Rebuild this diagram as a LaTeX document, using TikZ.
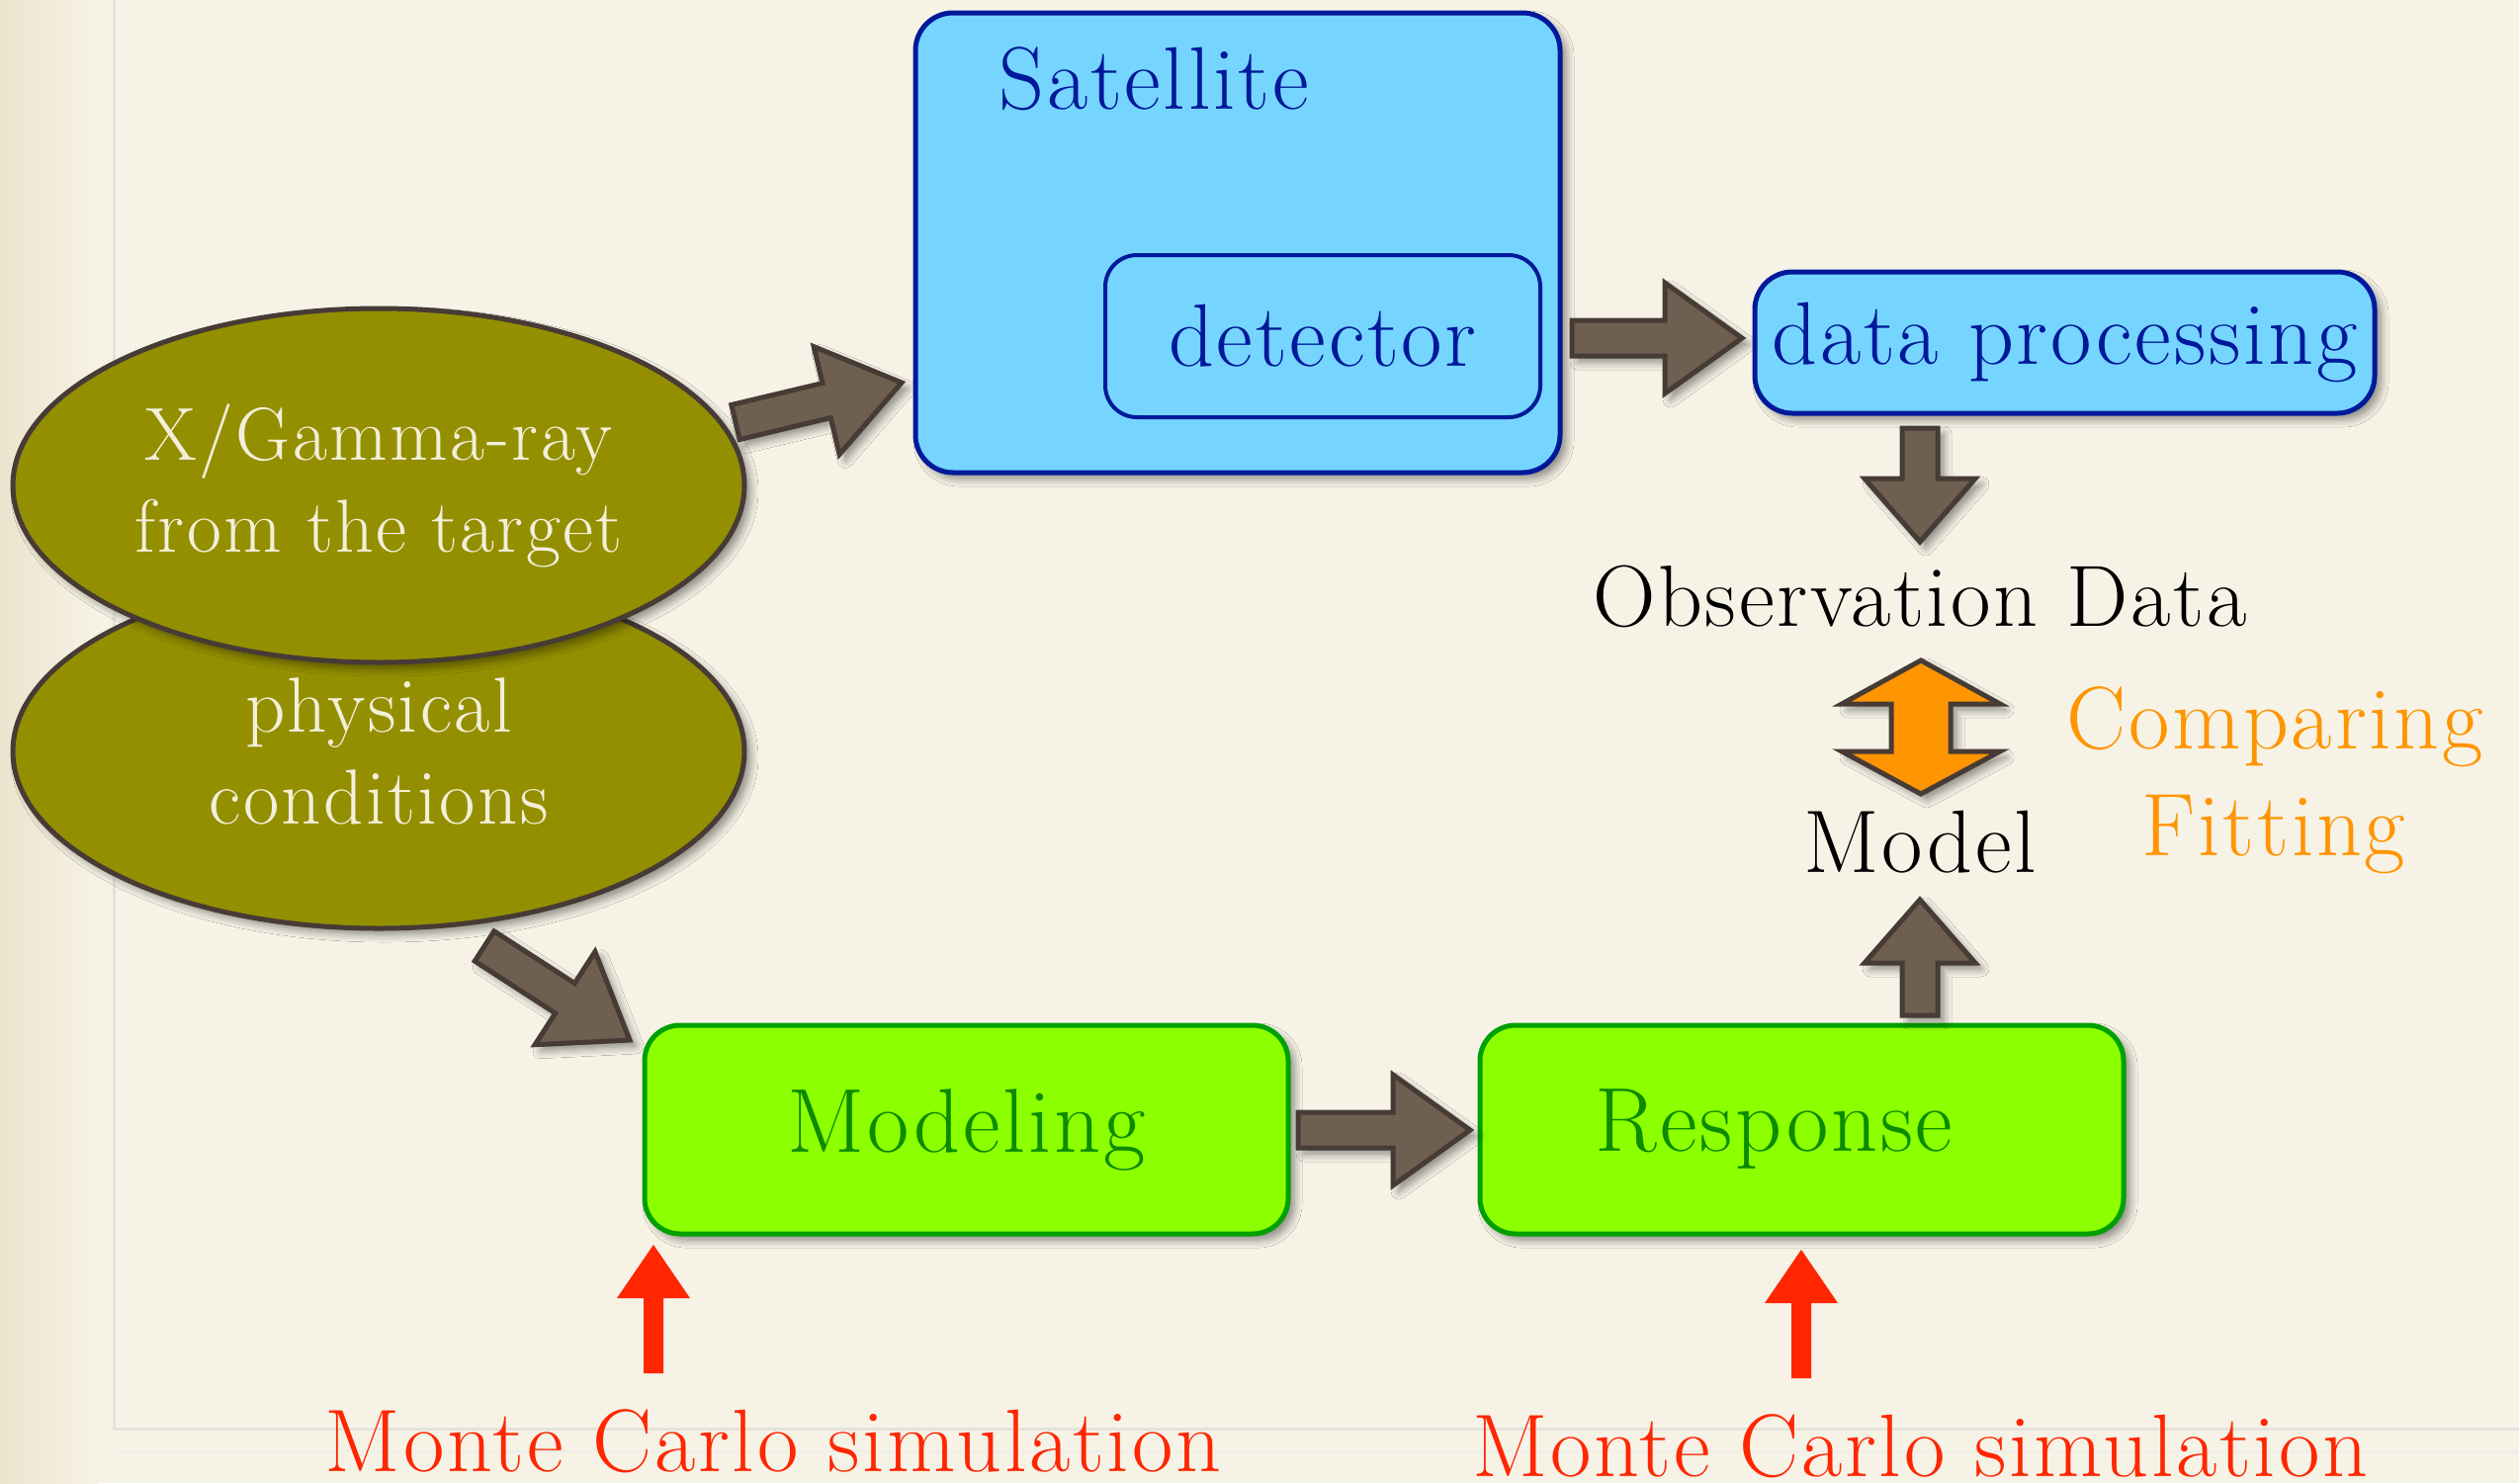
\documentclass[tikz,border=0pt]{standalone}
\usepackage{fontspec}
\setmainfont{Latin Modern Roman}[LetterSpace=3.0]
\usetikzlibrary{calc,shapes.geometric,shadows.blur}
\definecolor{bg}{HTML}{F6F2E6}
\definecolor{bgedge}{HTML}{ECE4CE}
\definecolor{frameln}{HTML}{E3E3DB}
\definecolor{lblue}{HTML}{76D5FF}
\definecolor{dblue}{HTML}{00199A}
\definecolor{lgreen}{HTML}{8CFF00}
\definecolor{dgreen}{HTML}{00A000}
\definecolor{tgreen}{HTML}{0C8A00}
\definecolor{olive}{HTML}{948F00}
\definecolor{dbrown}{HTML}{473B36}
\definecolor{mbrown}{HTML}{6F5F50}
\definecolor{orng}{HTML}{FF9500}
\definecolor{rred}{HTML}{FF2600}
\definecolor{ivory}{HTML}{F3EFDA}
\tikzset{
 shad/.style={blur shadow={shadow xshift=3pt, shadow yshift=-3pt, shadow blur radius=4pt, shadow blur steps=8, shadow opacity=45}},
 big/.style={font=\fontsize{45}{52}\selectfont},
 bluebox/.style={shape=rectangle, draw=dblue, fill=lblue, line width=2.5pt, rounded corners=19pt, text=dblue, big, inner sep=0pt},
 greenbox/.style={shape=rectangle, draw=dgreen, fill=lgreen, line width=2.5pt, rounded corners=18pt, text=tgreen, font=\fontsize{46}{52}\selectfont, inner sep=0pt, minimum width=325.5pt, minimum height=105.5pt},
 blob/.style={ellipse, draw=dbrown, fill=olive, line width=2.5pt, text=ivory, align=center, minimum width=370pt, minimum height=179pt, inner sep=0pt},
 brownarrow/.style={draw=dbrown, fill=mbrown, line width=2.5pt, line join=miter, shad},
 redarrow/.style={fill=rred},
 orangearrow/.style={draw=dbrown, fill=orng, line width=2.5pt, line join=miter, shad},
 mctext/.style={font=\fontsize{45}{50}\selectfont, text=rred, anchor=base},
}
\newcommand\blockarrow[6][brownarrow]{%
 \coordinate (bahd) at ($(#3)!#6!(#2)$);
 \path[#1] ($(#2)!#4!90:(#3)$) -- ($(bahd)!#4!-90:(#2)$) -- ($(bahd)!#5!-90:(#2)$) -- (#3) -- ($(bahd)!#5!90:(#2)$) -- ($(bahd)!#4!90:(#2)$) -- ($(#2)!#4!-90:(#3)$) -- cycle;}
\begin{document}
\begin{tikzpicture}[x=0.5pt,y=-0.5pt]
\useasboundingbox (0,0) rectangle (2548,1500);
\clip (0,0) rectangle (2548,1500);
\fill[bg] (0,0) rectangle (2548,1500);
\shade[left color=bgedge, right color=bg] (0,0) rectangle (100,1500);
\draw[frameln, line width=1.5pt] (115,0) -- (115,1445) -- (2548,1445);
\draw[frameln!60, line width=1pt] (118,1468) -- (2548,1468);

% ellipses
\node[blob, shad, font=\fontsize{39.5}{46.5}\selectfont] (phys) at (383,760) {physical\\conditions};
\node[blob, shad, font=\fontsize{38}{46.5}\selectfont] (xray) at (383,491) {X/Gamma-ray\\from the target};

% blue boxes
\node[bluebox, shad, minimum width=326pt, minimum height=232.5pt] (sat) at (1252,245.5) {};
\node[big, text=dblue, anchor=base west, inner sep=0pt] (satlabel) at (1010,110) {Satellite};
\node[bluebox, line width=2pt, minimum width=220pt, minimum height=82pt, rounded corners=16pt] (det) at (1338,340) {detector};
\node[bluebox, shad, minimum width=313.5pt, minimum height=71.5pt] (dp) at (2088.5,346.5) {data processing};

% texts right
\node[font=\fontsize{44}{52}\selectfont, anchor=base] (obs) at (1942,633) {Observation Data};
\node[big, anchor=base] (model) at (1942,882) {Model};
\node[big, text=orng, anchor=base] (cmp) at (2301,757) {Comparing};
\node[big, text=orng, anchor=base] (fit) at (2300,865) {Fitting};

% green boxes
\node[greenbox, shad] (mod) at (977.5,1142.5) {Modeling};
\node[greenbox, shad] (resp) at (1822.5,1142.5) {Response\hspace*{28pt}};

% Monte Carlo labels
\node[mctext] (mc1) at (782,1488) {Monte Carlo simulation};
\node[mctext] (mc2) at (1942,1493) {Monte Carlo simulation};

% arrow end points
\coordinate (a1t) at (744,427);  \coordinate (a1h) at (912,387);
\coordinate (a2t) at (1590,342); \coordinate (a2h) at (1762,342);
\coordinate (a3t) at (1942,433); \coordinate (a3h) at (1942,548);
\coordinate (a4t) at (490,957);  \coordinate (a4h) at (637,1052);
\coordinate (a5t) at (1313,1143);\coordinate (a5h) at (1487,1143);
\coordinate (a6t) at (1942,1027);\coordinate (a6h) at (1942,910);
\coordinate (r1t) at (661,1389); \coordinate (r1h) at (661,1259);
\coordinate (r2t) at (1822,1394);\coordinate (r2h) at (1822,1264);

\blockarrow{a1t}{a1h}{9pt}{28pt}{39pt}
\blockarrow{a2t}{a2h}{9pt}{28pt}{39pt}
\blockarrow{a3t}{a3h}{9pt}{28pt}{32pt}
\blockarrow{a4t}{a4h}{9pt}{28pt}{39pt}
\blockarrow{a5t}{a5h}{9pt}{28pt}{39pt}
\blockarrow{a6t}{a6h}{9pt}{28pt}{32pt}
\blockarrow[redarrow]{r1t}{r1h}{5pt}{18.5pt}{27pt}
\blockarrow[redarrow]{r2t}{r2h}{5pt}{18.5pt}{27pt}

% orange double arrow
\coordinate (cmpt) at (1943,668);
\coordinate (cmpb) at (1943,803);
\path[orangearrow] (cmpt) -- ++(80,44) -- ++(-50,0) -- ++(0,48) -- ++(50,0) -- (cmpb) -- ++(-80,-43) -- ++(50,0) -- ++(0,-48) -- ++(-50,0) -- cycle;
\end{tikzpicture}
\end{document}
